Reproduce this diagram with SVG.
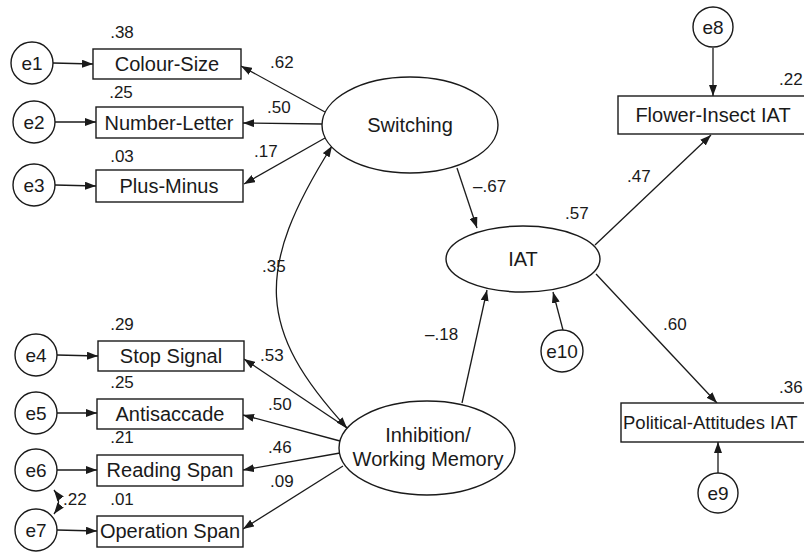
<svg xmlns="http://www.w3.org/2000/svg" width="804" height="552" viewBox="0 0 804 552">
<style>
.n{fill:#fff;stroke:#1a1a1a;stroke-width:1.4}
.t{font-family:"Liberation Sans",Arial,sans-serif;font-size:20px;fill:#1a1a1a;text-anchor:middle}
.e{font-family:"Liberation Sans",Arial,sans-serif;font-size:19px;fill:#1a1a1a;text-anchor:middle}
.l{font-family:"Liberation Sans",Arial,sans-serif;font-size:17px;fill:#1a1a1a}
.c{fill:none;stroke:#1a1a1a;stroke-width:1.3}
</style>
<defs>
<marker id="a" viewBox="0 0 11 8" refX="11" refY="4" markerWidth="11" markerHeight="8" markerUnits="userSpaceOnUse" orient="auto-start-reverse">
<path d="M0,0 L11,4 L0,8 z" fill="#1a1a1a"/>
</marker>
</defs>
<rect width="804" height="552" fill="#fff"/>
<g id="connectors">
<path class="c" d="M53,63 L93,64" marker-end="url(#a)"/>
<path class="c" d="M55,122 L96,122" marker-end="url(#a)"/>
<path class="c" d="M55,185 L96,186" marker-end="url(#a)"/>
<path class="c" d="M57,355 L98,356" marker-end="url(#a)"/>
<path class="c" d="M57,413 L97,413" marker-end="url(#a)"/>
<path class="c" d="M57,470 L97,470" marker-end="url(#a)"/>
<path class="c" d="M57,530 L97,531" marker-end="url(#a)"/>
<path class="c" d="M54,490 Q63,502 54,514" marker-start="url(#a)" marker-end="url(#a)"/>
<path class="c" d="M325,112 L241,66" marker-end="url(#a)"/>
<path class="c" d="M322,124 L243,123" marker-end="url(#a)"/>
<path class="c" d="M325,138 L244,184" marker-end="url(#a)"/>
<path class="c" d="M347,428 C257,330 254,270 332,146" marker-start="url(#a)" marker-end="url(#a)"/>
<path class="c" d="M347,428 L244,359" marker-end="url(#a)"/>
<path class="c" d="M340,441 L243,415" marker-end="url(#a)"/>
<path class="c" d="M340,453 L243,470" marker-end="url(#a)"/>
<path class="c" d="M343,466 L243,529" marker-end="url(#a)"/>
<path class="c" d="M457,168 L477,228" marker-end="url(#a)"/>
<path class="c" d="M462,403 L487,290" marker-end="url(#a)"/>
<path class="c" d="M563,330 L553,292" marker-end="url(#a)"/>
<path class="c" d="M595,245 L711,135" marker-end="url(#a)"/>
<path class="c" d="M596,274 L717,403" marker-end="url(#a)"/>
<path class="c" d="M713,48 L713,96" marker-end="url(#a)"/>
<path class="c" d="M718,473 L718,442" marker-end="url(#a)"/>
</g>
<g id="labels">
<text class="l" x="122" y="38" text-anchor="middle">.38</text>
<text class="l" x="121" y="98" text-anchor="middle">.25</text>
<text class="l" x="122" y="162" text-anchor="middle">.03</text>
<text class="l" x="270" y="68">.62</text>
<text class="l" x="267" y="113">.50</text>
<text class="l" x="254" y="157">.17</text>
<text class="l" x="262" y="272">.35</text>
<text class="l" x="122" y="330" text-anchor="middle">.29</text>
<text class="l" x="122" y="388" text-anchor="middle">.25</text>
<text class="l" x="122" y="443" text-anchor="middle">.21</text>
<text class="l" x="122" y="505" text-anchor="middle">.01</text>
<text class="l" x="63" y="505">.22</text>
<text class="l" x="260" y="361">.53</text>
<text class="l" x="268" y="410">.50</text>
<text class="l" x="268" y="453">.46</text>
<text class="l" x="270" y="487">.09</text>
<text class="l" x="473" y="192">–.67</text>
<text class="l" x="425" y="340">–.18</text>
<text class="l" x="565" y="219">.57</text>
<text class="l" x="627" y="182">.47</text>
<text class="l" x="663" y="330">.60</text>
<text class="l" x="779" y="85">.22</text>
<text class="l" x="779" y="393">.36</text>
</g>
<g id="e1"><circle class="n" cx="32" cy="63" r="21"/><text class="e" x="32" y="70">e1</text></g>
<g id="e2"><circle class="n" cx="34" cy="122" r="21"/><text class="e" x="34" y="129">e2</text></g>
<g id="e3"><circle class="n" cx="34" cy="185" r="21"/><text class="e" x="34" y="192">e3</text></g>
<g id="e4"><circle class="n" cx="36" cy="355" r="21"/><text class="e" x="36" y="362">e4</text></g>
<g id="e5"><circle class="n" cx="36" cy="413" r="21"/><text class="e" x="36" y="420">e5</text></g>
<g id="e6"><circle class="n" cx="36" cy="470" r="21"/><text class="e" x="36" y="477">e6</text></g>
<g id="e7"><circle class="n" cx="36" cy="530" r="21"/><text class="e" x="36" y="537">e7</text></g>
<g id="colour-size"><rect class="n" x="93" y="49" width="148" height="30"/><text class="t" x="167" y="71">Colour-Size</text></g>
<g id="number-letter"><rect class="n" x="96" y="107" width="147" height="31"/><text class="t" x="169" y="130">Number-Letter</text></g>
<g id="plus-minus"><rect class="n" x="96" y="170" width="147" height="32"/><text class="t" x="169" y="193">Plus-Minus</text></g>
<g id="stop-signal"><rect class="n" x="98" y="341" width="146" height="30"/><text class="t" x="171" y="363">Stop Signal</text></g>
<g id="antisaccade"><rect class="n" x="97" y="399" width="146" height="30"/><text class="t" x="170" y="421">Antisaccade</text></g>
<g id="reading-span"><rect class="n" x="97" y="455" width="146" height="31"/><text class="t" x="170" y="477">Reading Span</text></g>
<g id="operation-span"><rect class="n" x="97" y="516" width="146" height="31"/><text class="t" x="170" y="538">Operation Span</text></g>
<g id="switching"><ellipse class="n" cx="410" cy="125" rx="88" ry="48"/><text class="t" x="410" y="132">Switching</text></g>
<g id="inhibition"><ellipse class="n" cx="427" cy="448" rx="88" ry="47"/><text class="t" x="428" y="442">Inhibition/</text><text class="t" x="428" y="466">Working Memory</text></g>
<g id="iat"><ellipse class="n" cx="523" cy="259" rx="77" ry="33"/><text class="t" x="523" y="266">IAT</text></g>
<g id="e10"><circle class="n" cx="562" cy="351" r="21"/><text class="e" x="562" y="358">e10</text></g>
<g id="flower-insect"><rect class="n" x="618" y="96" width="192" height="38"/><text class="t" x="713" y="122">Flower-Insect IAT</text></g>
<g id="e8"><circle class="n" cx="713" cy="27" r="20"/><text class="e" x="713" y="34">e8</text></g>
<g id="political"><rect class="n" x="621" y="403" width="200" height="39"/><text class="t" x="623" y="429" style="text-anchor:start;font-size:18.5px">Political-Attitudes IAT</text></g>
<g id="e9"><circle class="n" cx="718" cy="493" r="20"/><text class="e" x="718" y="500">e9</text></g>
</svg>
